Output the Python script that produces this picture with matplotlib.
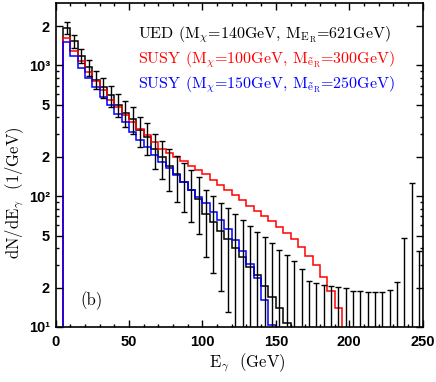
import numpy as np
import matplotlib
matplotlib.use('Agg')
import matplotlib.pyplot as plt
from matplotlib.ticker import FixedLocator, FuncFormatter

plt.rcParams['mathtext.fontset'] = 'cm'

# 5 GeV bins from 0 to 250
edges = np.arange(0, 255, 5)

# UED (M_chi=140, M_E=621) with error bars
ued = [0, 1950, 1530, 1190, 970, 780, 680, 590, 500, 436,
       390, 320, 284, 231, 200, 169, 147, 128, 111, 96,
       73, 63, 54, 47, 40, 34, 29, 25, 20.5, 17,
       13.9, 10.8, 4, 3, 2.5, 2, 2, 2, 2, 1.5,
       1.5, 1.5, 1.5, 1.5, 1.5, 1.5, 1.5, 2, 3, 1.5]
ued_err = [0, 200, 170, 155, 140, 125, 118, 110, 100, 95,
           90, 82, 78, 70, 65, 60, 56, 52, 48, 45,
           39, 37, 35, 34, 33, 32, 30, 28, 28, 27,
           25, 25, 28, 25, 20, 19.8, 19, 18.6, 18.3, 18.2,
           17.4, 17.4, 17.1, 16.9, 16.9, 17.7, 20.6, 45.8, 124, 36.3]

# SUSY (M_chi=100, M_e=300)
susy1 = [0, 1620, 1300, 1080, 885, 755, 645, 545, 480, 418,
         368, 329, 292, 260, 228, 214, 200, 185, 169, 158,
         148, 134, 121, 111, 102, 93, 84, 77, 71, 65,
         58, 52, 47, 41, 35, 30, 24, 19, 13.9, 0,
         0, 0, 0, 0, 0, 0, 0, 0, 0, 0]

# SUSY (M_chi=150, M_e=250)
susy2 = [0, 1507, 1190, 960, 800, 680, 573, 495, 428, 369,
         310, 267, 236, 206, 183, 163, 145, 129, 112, 99,
         88, 76, 66, 56, 46, 38, 30.5, 23.5, 16, 10.3,
         0, 0, 0, 0, 0, 0, 0, 0, 0, 0,
         0, 0, 0, 0, 0, 0, 0, 0, 0, 0]

labels = [r'UED (M$_\chi$=140GeV, M$_{\mathrm{E}_\mathrm{R}}$=621GeV)',
          r'SUSY (M$_\chi$=100GeV, M$_{\tilde{\mathrm{e}}_\mathrm{R}}$=300GeV)',
          r'SUSY (M$_\chi$=150GeV, M$_{\tilde{\mathrm{e}}_\mathrm{R}}$=250GeV)']
colors = ['black', '#ff0000', '#0000ff']

fig = plt.figure(figsize=(4.36, 3.82), dpi=100)
ax = fig.add_axes([0.1273, 0.144, 0.8422, 0.848])
ax.set_yscale('log')

floor = 1e-3
ued_a = np.array(ued, float)
err_a = np.array(ued_err, float)
centers = 0.5 * (edges[:-1] + edges[1:])

ax.stairs(np.clip(ued_a, floor, None), edges, color=colors[0], lw=1.1, baseline=floor)
ax.stairs(np.clip(np.array(susy1, float), floor, None), edges, color=colors[1], lw=1.1, baseline=floor)
ax.stairs(np.clip(np.array(susy2, float), floor, None), edges, color=colors[2], lw=1.1, baseline=floor)

m = ued_a > 0
lo = np.minimum(err_a, ued_a * 0.9999)
ax.errorbar(centers[m], ued_a[m], yerr=[lo[m], err_a[m]], fmt='none',
            ecolor='black', elinewidth=1.0, capsize=2.5, capthick=1.0)

ax.set_xlim(0, 250)
ax.set_ylim(10, 3000)

ax.xaxis.set_major_locator(FixedLocator([0, 50, 100, 150, 200, 250]))
ax.xaxis.set_minor_locator(FixedLocator([v for v in range(0, 251, 10) if v % 50]))

ymaj = [10, 20, 50, 100, 200, 500, 1000, 2000]
ylab = {10: '10\u00b9', 100: '10\u00b2', 1000: '10\u00b3'}
ax.yaxis.set_major_locator(FixedLocator(ymaj))
ax.yaxis.set_minor_locator(FixedLocator([k * 10 ** d for d in (1, 2, 3)
                                         for k in (3, 4, 6, 7, 8, 9) if k * 10 ** d < 3000]))
ax.yaxis.set_major_formatter(FuncFormatter(
    lambda v, p: ylab.get(int(round(v)), str(int(round(v / 10 ** np.floor(np.log10(v))))))))
ax.yaxis.set_minor_formatter(FuncFormatter(lambda v, p: ''))

ax.tick_params(which='both', direction='in', top=True, right=True, width=1.0)
ax.tick_params(which='major', length=5)
ax.tick_params(which='minor', length=2.5)
ax.tick_params(axis='x', pad=6)
ax.tick_params(axis='y', pad=4)
for t in ax.get_xticklabels() + ax.get_yticklabels():
    t.set_family('Liberation Sans')
    t.set_fontweight('bold')
    t.set_fontsize(10.5)
for s in ax.spines.values():
    s.set_linewidth(1.2)

ax.set_xlabel(r'E$_\gamma$  (GeV)', fontsize=12, family='cmr10')
ax.xaxis.set_label_coords(0.523, -0.075)
ax.set_ylabel(r'dN/dE$_\gamma$  (1/GeV)', fontsize=12, family='cmr10')
ax.yaxis.set_label_coords(-0.08, 0.415)

for i, (lab, c) in enumerate(zip(labels, colors)):
    fig.text(138 / 436, 1 - (35 + 25 * i) / 382, lab, color=c, fontsize=11.5,
             family='cmr10', va='center', ha='left')

fig.text(80 / 436, 1 - 301 / 382, '(b)', fontsize=12, family='cmr10', va='center', ha='left')

fig.savefig('out.png', dpi=100)
